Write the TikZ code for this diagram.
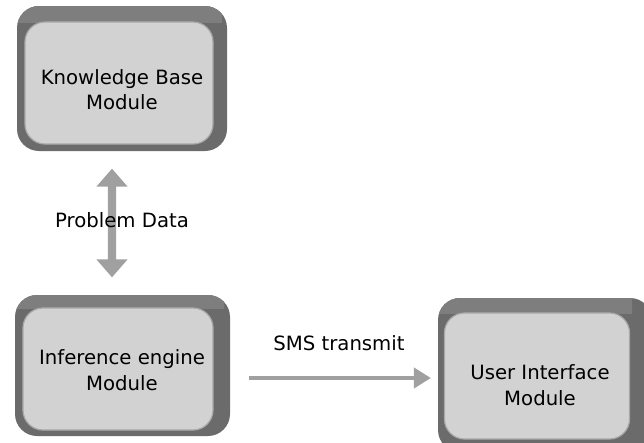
\documentclass[tikz,border=0pt]{standalone}
\usepackage{fontspec}
\setmainfont{DejaVu Sans}
\usetikzlibrary{%
  arrows.meta,%
  calc,%
}

\definecolor{framegray}{HTML}{6B6B6B}
\definecolor{bandgray}{HTML}{7E7E7E}
\definecolor{facegray}{HTML}{D2D2D2}
\definecolor{edgegray}{HTML}{A8A8A8}
\definecolor{arrowgray}{HTML}{A0A0A0}

\tikzset{
  face/.style={fill=facegray, draw=edgegray, line width=0.03cm,
    rounded corners=0.5cm, inner sep=0pt},
  facetext/.style={align=center, font=\fontsize{14}{18}\selectfont},
  frame/.style={fill=framegray, rounded corners=0.55cm},
  band/.style={fill=bandgray, rounded corners=0.55cm},
  label/.style={font=\fontsize{14}{17}\selectfont},
}

\begin{document}
\begin{tikzpicture}[x=0.025cm, y=-0.025cm]

      \useasboundingbox (0, 0) rectangle (644, 442);
      \fill [white] (0, 0) rectangle (644, 442);

      % knowledge base block
      \fill [frame] (17, 6) rectangle (227, 151);
      \begin{scope}
        \clip (0, 0) rectangle (222, 22);
        \fill [band] (17, 6) rectangle (227, 151);
      \end{scope}
      \node [face, minimum width=4.7cm, minimum height=3.05cm]
        (kb) at (119, 83) {};
      \node [facetext] (kbtext) at (122, 90) {Knowledge Base\\Module};

      % inference engine block
      \fill [frame] (15, 295) rectangle (230, 436);
      \begin{scope}
        \clip (0, 280) rectangle (224, 308);
        \fill [band] (15, 295) rectangle (230, 436);
      \end{scope}
      \node [face, minimum width=4.75cm, minimum height=3.05cm]
        (ie) at (118, 369) {};
      \node [facetext] (ietext) at (122, 370) {Inference engine\\Module};

      % user interface block
      \fill [frame] (438, 298) rectangle (652, 452);
      \begin{scope}
        \clip (420, 280) rectangle (632, 313);
        \fill [band] (438, 298) rectangle (652, 452);
      \end{scope}
      \node [face, minimum width=4.625cm, minimum height=3.15cm]
        (ui) at (537, 376) {};
      \node [facetext] (uitext) at (540, 385) {User Interface\\Module};

      % problem data link
      \draw [{Triangle[length=0.45cm, width=0.75cm]}-{Triangle[length=0.45cm, width=0.75cm]},
        arrowgray, line width=0.2cm, shorten <=0.6cm, shorten >=0.75cm]
        ([xshift=-0.175cm]kb.south) -- ([xshift=-0.15cm]ie.north);
      \node [label] (pd) at (122, 220) {Problem Data};

      % sms link
      \coordinate (smsstart) at ($(ie.east) + (35, 9)$);
      \draw [-{Triangle[length=0.425cm, width=0.5cm]}, arrowgray,
        line width=0.1cm, shorten >=0.325cm]
        (smsstart) -- (smsstart -| ui.west);
      \node [label] (sms) at (339, 343) {SMS transmit};

    \end{tikzpicture}
\end{document}
